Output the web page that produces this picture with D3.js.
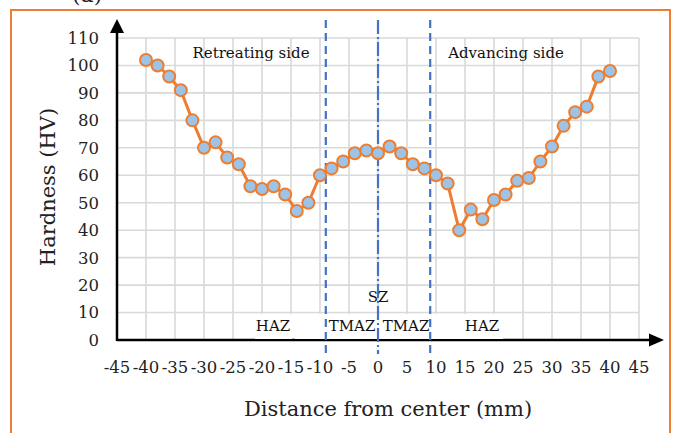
<!DOCTYPE html>
<html>
<head>
<meta charset="utf-8">
<script src="https://cdn.jsdelivr.net/npm/d3@7"></script>
<style>
  body { margin: 0; background: #fff; }
  svg { display: block; }
  text { font-family: "DejaVu Serif", serif; fill: #222; }
</style>
</head>
<body>
<svg id="chart" width="678" height="433"></svg>
<script>
// distance from weld center (mm) and measured hardness (HV)
var distance = [-40, -38, -36, -34, -32, -30, -28, -26, -24, -22, -20, -18, -16, -14, -12, -10,
                -8, -6, -4, -2, 0, 2, 4, 6, 8, 10, 12, 14, 16, 18, 20, 22, 24, 26, 28, 30,
                32, 34, 36, 38, 40];
var hardness = [102, 100, 96, 91, 80, 70, 72, 66.5, 64, 56, 55, 56, 53, 47, 50, 60,
                62.5, 65, 68, 69, 68, 70.5, 68, 64, 62.5, 60, 57, 40, 47.5, 44, 51, 53, 58, 59, 65, 70.5,
                78, 83, 85, 96, 98];
var xTicks = [-45, -40, -35, -30, -25, -20, -15, -10, -5, 0, 5, 10, 15, 20, 25, 30, 35, 40, 45];
var yTicks = [0, 10, 20, 30, 40, 50, 60, 70, 80, 90, 100, 110];
// zone boundaries (mm)
var zoneLines = [-9, 9];
var centerLine = [0];

var svg = d3.select("#chart");

var x = d3.scaleLinear().domain([-45, 45]).range([117, 639]);
var y = d3.scaleLinear().domain([0, 110]).range([340, 38]);

// outer frame
svg.append("rect")
	.attr("x", 11).attr("y", 10)
	.attr("width", 659).attr("height", 440)
	.attr("fill", "none")
	.attr("stroke", "#ED7D31")
	.attr("stroke-width", 2);

// panel label, cut off at the top like the source figure
svg.append("text")
	.attr("x", 72).attr("y", 2)
	.style("font-size", "22px")
	.text("(a)");

// grid
var grid = svg.append("g").attr("stroke", "#d9d9d9").attr("stroke-width", 1.6);
grid.selectAll(".gx").data(xTicks).enter().append("line")
	.attr("x1", function(d){ return x(d); }).attr("x2", function(d){ return x(d); })
	.attr("y1", y(0)).attr("y2", y(110));
grid.selectAll(".gy").data(yTicks).enter().append("line")
	.attr("x1", x(-45)).attr("x2", x(45))
	.attr("y1", function(d){ return y(d); }).attr("y2", function(d){ return y(d); });

// axes with arrowheads
var axes = svg.append("g");
axes.append("line")
	.attr("x1", x(-45)).attr("x2", 652)
	.attr("y1", y(0)).attr("y2", y(0))
	.attr("stroke", "#000").attr("stroke-width", 2.5);
axes.append("path")
	.attr("d", "M664," + y(0) + " L649," + (y(0) - 6.5) + " L649," + (y(0) + 6.5) + " Z")
	.attr("fill", "#000");
axes.append("line")
	.attr("x1", x(-45)).attr("x2", x(-45))
	.attr("y1", y(0) + 1).attr("y2", 30)
	.attr("stroke", "#000").attr("stroke-width", 2.5);
axes.append("path")
	.attr("d", "M" + x(-45) + ",19 L" + (x(-45) - 7) + ",33 L" + (x(-45) + 7) + ",33 Z")
	.attr("fill", "#000");

// tick labels
svg.selectAll(".yl").data(yTicks).enter().append("text")
	.attr("x", 99)
	.attr("y", function(d){ return y(d); })
	.attr("dy", "0.36em")
	.attr("text-anchor", "end")
	.style("font-size", "16.5px")
	.text(function(d){ return d; });
svg.selectAll(".xl").data(xTicks).enter().append("text")
	.attr("x", function(d){ return x(d); })
	.attr("y", 367)
	.attr("dy", "0.36em")
	.attr("text-anchor", "middle")
	.style("font-size", "16.5px")
	.text(function(d){ return d; });

// axis titles
svg.append("text")
	.attr("transform", "translate(47,187) rotate(-90)")
	.attr("text-anchor", "middle")
	.attr("dy", "0.36em")
	.style("font-size", "21px")
	.text("Hardness (HV)");
svg.append("text")
	.attr("x", 388).attr("y", 408)
	.attr("dy", "0.36em")
	.attr("text-anchor", "middle")
	.style("font-size", "21px")
	.text("Distance from center (mm)");

// white text boxes behind zone labels
var boxes = [[255, 292], [295, 473], [462, 503]];
svg.selectAll(".box").data(boxes).enter().append("rect")
	.attr("x", function(d){ return d[0]; })
	.attr("width", function(d){ return d[1] - d[0]; })
	.attr("y", 314).attr("height", 25)
	.attr("fill", "#fff");

// zone boundary lines
svg.selectAll(".zl").data(zoneLines).enter().append("line")
	.attr("x1", function(d){ return x(d); }).attr("x2", function(d){ return x(d); })
	.attr("y1", 20).attr("y2", 354)
	.attr("stroke", "#4472C4").attr("stroke-width", 2.2)
	.attr("stroke-dasharray", "8,5");
svg.selectAll(".cl").data(centerLine).enter().append("line")
	.attr("x1", function(d){ return x(d); }).attr("x2", function(d){ return x(d); })
	.attr("y1", 20).attr("y2", 354)
	.attr("stroke", "#4472C4").attr("stroke-width", 2.2)
	.attr("stroke-dasharray", "14,3,2,3");

// zone labels
var labels = [
	{ t: "Retreating side", x: 251, y: 53 },
	{ t: "Advancing side", x: 506, y: 53 },
	{ t: "HAZ", x: 273, y: 326 },
	{ t: "TMAZ", x: 352, y: 326 },
	{ t: "TMAZ", x: 406, y: 326 },
	{ t: "HAZ", x: 482, y: 326 },
	{ t: "SZ", x: 378, y: 297 }
];
svg.selectAll(".lab").data(labels).enter().append("text")
	.attr("x", function(d){ return d.x; })
	.attr("y", function(d){ return d.y; })
	.attr("dy", "0.36em")
	.attr("text-anchor", "middle")
	.style("font-size", "15px")
	.style("fill", "#111")
	.text(function(d){ return d.t; });

// data series
var pts = distance.map(function(d, i){ return [d, hardness[i]]; });
var line = d3.line()
	.x(function(d){ return x(d[0]); })
	.y(function(d){ return y(d[1]); });
svg.append("path")
	.datum(pts)
	.attr("d", line)
	.attr("fill", "none")
	.attr("stroke", "#ED7D31")
	.attr("stroke-width", 3);
svg.selectAll(".pt").data(pts).enter().append("circle")
	.attr("cx", function(d){ return x(d[0]); })
	.attr("cy", function(d){ return y(d[1]); })
	.attr("r", 6)
	.attr("fill", "#9DC3E6")
	.attr("stroke", "#ED7D31")
	.attr("stroke-width", 2);
</script>
</body>
</html>
